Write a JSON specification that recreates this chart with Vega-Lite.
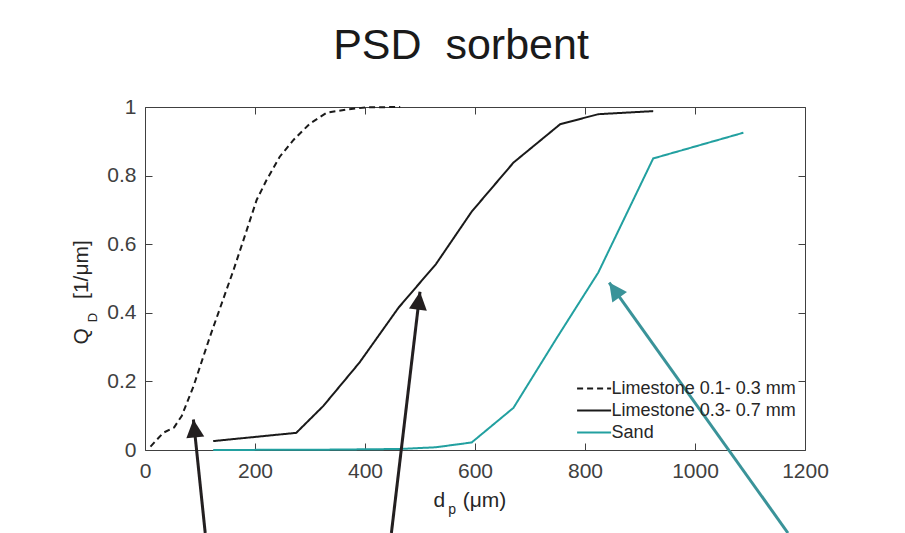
{
  "$schema": "https://vega.github.io/schema/vega-lite/v6.json",
  "width": 660,
  "height": 343,
  "autosize": {"type": "none"},
  "padding": {"left": 145, "top": 107, "right": 100, "bottom": 83},
  "background": "#ffffff",
  "title": {
    "text": "PSD\u00a0 sorbent",
    "fontSize": 43,
    "font": "Liberation Sans",
    "fontWeight": "normal",
    "color": "#1a1a1a",
    "anchor": "middle",
    "dx": -14,
    "offset": 28
  },
  "config": {
    "view": {"stroke": null},
    "font": "Liberation Sans",
    "axis": {
      "grid": false,
      "domainColor": "#404040",
      "domainWidth": 1,
      "tickColor": "#404040",
      "tickWidth": 1,
      "tickSize": -7,
      "labelFlush": false,
      "labelFont": "Liberation Sans",
      "labelFontSize": 21,
      "labelColor": "#404040",
      "titleFont": "Liberation Sans",
      "titleFontSize": 21,
      "titleFontWeight": "normal",
      "titleColor": "#262626"
    },
    "legend": {
      "labelFont": "Liberation Sans",
      "labelFontSize": 18,
      "labelColor": "#262626",
      "labelLimit": 0,
      "symbolType": "M-1.5,0H1.5",
      "symbolSize": 514,
      "symbolStrokeWidth": 2,
      "rowPadding": 0,
      "labelOffset": 5,
      "padding": 0
    }
  },
  "resolve": {"axis": {"x": "independent", "y": "independent"}},
  "layer": [
    {
      "data": {
        "values": [
          {"series": "Limestone 0.1- 0.3 mm", "d": 10, "q": 0.01},
          {"series": "Limestone 0.1- 0.3 mm", "d": 33, "q": 0.05},
          {"series": "Limestone 0.1- 0.3 mm", "d": 53, "q": 0.066},
          {"series": "Limestone 0.1- 0.3 mm", "d": 67, "q": 0.1},
          {"series": "Limestone 0.1- 0.3 mm", "d": 88, "q": 0.185},
          {"series": "Limestone 0.1- 0.3 mm", "d": 118, "q": 0.33},
          {"series": "Limestone 0.1- 0.3 mm", "d": 161, "q": 0.525},
          {"series": "Limestone 0.1- 0.3 mm", "d": 179, "q": 0.612},
          {"series": "Limestone 0.1- 0.3 mm", "d": 203, "q": 0.729},
          {"series": "Limestone 0.1- 0.3 mm", "d": 221, "q": 0.787},
          {"series": "Limestone 0.1- 0.3 mm", "d": 245, "q": 0.855},
          {"series": "Limestone 0.1- 0.3 mm", "d": 270, "q": 0.904},
          {"series": "Limestone 0.1- 0.3 mm", "d": 300, "q": 0.952},
          {"series": "Limestone 0.1- 0.3 mm", "d": 330, "q": 0.983},
          {"series": "Limestone 0.1- 0.3 mm", "d": 367, "q": 0.993},
          {"series": "Limestone 0.1- 0.3 mm", "d": 403, "q": 0.999},
          {"series": "Limestone 0.1- 0.3 mm", "d": 464, "q": 1.0},
          {"series": "Limestone 0.3- 0.7 mm", "d": 124, "q": 0.026},
          {"series": "Limestone 0.3- 0.7 mm", "d": 275, "q": 0.05},
          {"series": "Limestone 0.3- 0.7 mm", "d": 324, "q": 0.128},
          {"series": "Limestone 0.3- 0.7 mm", "d": 390, "q": 0.255},
          {"series": "Limestone 0.3- 0.7 mm", "d": 461, "q": 0.415},
          {"series": "Limestone 0.3- 0.7 mm", "d": 529, "q": 0.542},
          {"series": "Limestone 0.3- 0.7 mm", "d": 594, "q": 0.695},
          {"series": "Limestone 0.3- 0.7 mm", "d": 670, "q": 0.838},
          {"series": "Limestone 0.3- 0.7 mm", "d": 755, "q": 0.95},
          {"series": "Limestone 0.3- 0.7 mm", "d": 824, "q": 0.979},
          {"series": "Limestone 0.3- 0.7 mm", "d": 924, "q": 0.988},
          {"series": "Sand", "d": 124, "q": 0.0},
          {"series": "Sand", "d": 330, "q": 0.001},
          {"series": "Sand", "d": 464, "q": 0.003},
          {"series": "Sand", "d": 529, "q": 0.008},
          {"series": "Sand", "d": 594, "q": 0.022},
          {"series": "Sand", "d": 670, "q": 0.123},
          {"series": "Sand", "d": 750, "q": 0.33},
          {"series": "Sand", "d": 824, "q": 0.517},
          {"series": "Sand", "d": 924, "q": 0.85},
          {"series": "Sand", "d": 1088, "q": 0.925}
        ]
      },
      "mark": {"type": "line", "strokeWidth": 2},
      "encoding": {
        "x": {
          "field": "d", "type": "quantitative",
          "scale": {"domain": [0, 1200], "nice": false, "zero": false},
          "axis": {
            "orient": "bottom",
            "values": [0, 200, 400, 600, 800, 1000, 1200],
            "format": "d",
            "labelPadding": 17,
            "title": "d\u00a0\u00a0\u00a0(μm)",
            "titleX": 324.4,
            "titleY": 56.7,
            "titleAlign": "center",
            "titleBaseline": "alphabetic"
          }
        },
        "y": {
          "field": "q", "type": "quantitative",
          "scale": {"domain": [0, 1], "nice": false},
          "axis": {
            "orient": "left",
            "values": [0, 0.2, 0.4, 0.6, 0.8, 1],
            "format": "~g",
            "labelPadding": 16,
            "title": "Q\u00a0\u00a0\u00a0\u00a0\u00a0[1/μm]",
            "titleX": -58,
            "titleY": 184.8,
            "titleAngle": 270,
            "titleAlign": "center",
            "titleBaseline": "alphabetic"
          }
        },
        "color": {
          "field": "series", "type": "nominal",
          "scale": {
            "domain": ["Limestone 0.1- 0.3 mm", "Limestone 0.3- 0.7 mm", "Sand"],
            "range": ["#1a1a1a", "#1a1a1a", "#22a0a0"]
          },
          "legend": {"title": null, "orient": "none", "legendX": 436.6, "legendY": 269}
        },
        "strokeDash": {
          "field": "series", "type": "nominal",
          "scale": {
            "domain": ["Limestone 0.1- 0.3 mm", "Limestone 0.3- 0.7 mm", "Sand"],
            "range": [[6, 4], [1, 0], [1, 0]]
          },
          "legend": {"title": null, "orient": "none", "legendX": 436.6, "legendY": 269}
        }
      }
    },
    {
      "data": {
        "values": [
          {"arrow": "a1", "x0": 109.5, "y0": -0.242, "x1": 88, "y1": 0.089},
          {"arrow": "a2", "x0": 448, "y0": -0.242, "x1": 500, "y1": 0.4615},
          {"arrow": "a3", "x0": 1169, "y0": -0.242, "x1": 844, "y1": 0.488}
        ]
      },
      "mark": {"type": "rule", "strokeCap": "butt"},
      "encoding": {
        "x": {
          "field": "x0", "type": "quantitative",
          "scale": {"domain": [0, 1200], "nice": false, "zero": false},
          "axis": {"orient": "top", "values": [0, 200, 400, 600, 800, 1000, 1200], "labels": false, "title": null}
        },
        "y": {
          "field": "y0", "type": "quantitative",
          "scale": {"domain": [0, 1], "nice": false},
          "axis": {"orient": "right", "values": [0, 0.2, 0.4, 0.6, 0.8, 1], "labels": false, "title": null}
        },
        "x2": {"field": "x1"},
        "y2": {"field": "y1"},
        "stroke": {
          "field": "arrow", "type": "nominal",
          "scale": {"domain": ["a1", "a2", "a3"], "range": ["#231f20", "#231f20", "#3a9399"]},
          "legend": null
        },
        "strokeWidth": {
          "field": "arrow", "type": "ordinal",
          "scale": {"domain": ["a1", "a2", "a3"], "range": [3, 3, 4]},
          "legend": null
        }
      }
    },
    {
      "data": {"values": [{"arrow": "a1", "x1": 88, "y1": 0.089}]},
      "mark": {"type": "point", "filled": true, "shape": "M0,0L-0.5,1L0.5,1Z", "size": 1296, "strokeWidth": 0, "opacity": 1, "angle": -6, "color": "#231f20"},
      "encoding": {
        "x": {"field": "x1", "type": "quantitative", "scale": {"domain": [0, 1200], "nice": false, "zero": false}, "axis": null},
        "y": {"field": "y1", "type": "quantitative", "scale": {"domain": [0, 1], "nice": false}, "axis": null}
      }
    },
    {
      "data": {"values": [{"arrow": "a2", "x1": 500, "y1": 0.4615}]},
      "mark": {"type": "point", "filled": true, "shape": "M0,0L-0.5,1L0.5,1Z", "size": 1296, "strokeWidth": 0, "opacity": 1, "angle": 6.7, "color": "#231f20"},
      "encoding": {
        "x": {"field": "x1", "type": "quantitative", "scale": {"domain": [0, 1200], "nice": false, "zero": false}, "axis": null},
        "y": {"field": "y1", "type": "quantitative", "scale": {"domain": [0, 1], "nice": false}, "axis": null}
      }
    },
    {
      "data": {"values": [{"arrow": "a3", "x1": 844, "y1": 0.488}]},
      "mark": {"type": "point", "filled": true, "shape": "M0,0L-0.5,1L0.5,1Z", "size": 1296, "strokeWidth": 0, "opacity": 1, "angle": -35.5, "color": "#3a9399"},
      "encoding": {
        "x": {"field": "x1", "type": "quantitative", "scale": {"domain": [0, 1200], "nice": false, "zero": false}, "axis": null},
        "y": {"field": "y1", "type": "quantitative", "scale": {"domain": [0, 1], "nice": false}, "axis": null}
      }
    },
    {
      "data": {"values": [{"t": "D", "x": -87.3, "y": 0.386}]},
      "mark": {"type": "text", "angle": 270, "fontSize": 13, "align": "center", "baseline": "alphabetic", "color": "#262626", "font": "Liberation Sans"},
      "encoding": {
        "x": {"field": "x", "type": "quantitative", "scale": {"domain": [0, 1200], "nice": false, "zero": false}, "axis": null},
        "y": {"field": "y", "type": "quantitative", "scale": {"domain": [0, 1], "nice": false}, "axis": null},
        "text": {"field": "t"}
      }
    },
    {
      "data": {"values": [{"t": "p", "x": 558.5, "y": -0.1866}]},
      "mark": {"type": "text", "fontSize": 14, "align": "center", "baseline": "alphabetic", "color": "#262626", "font": "Liberation Sans"},
      "encoding": {
        "x": {"field": "x", "type": "quantitative", "scale": {"domain": [0, 1200], "nice": false, "zero": false}, "axis": null},
        "y": {"field": "y", "type": "quantitative", "scale": {"domain": [0, 1], "nice": false}, "axis": null},
        "text": {"field": "t"}
      }
    }
  ]
}
